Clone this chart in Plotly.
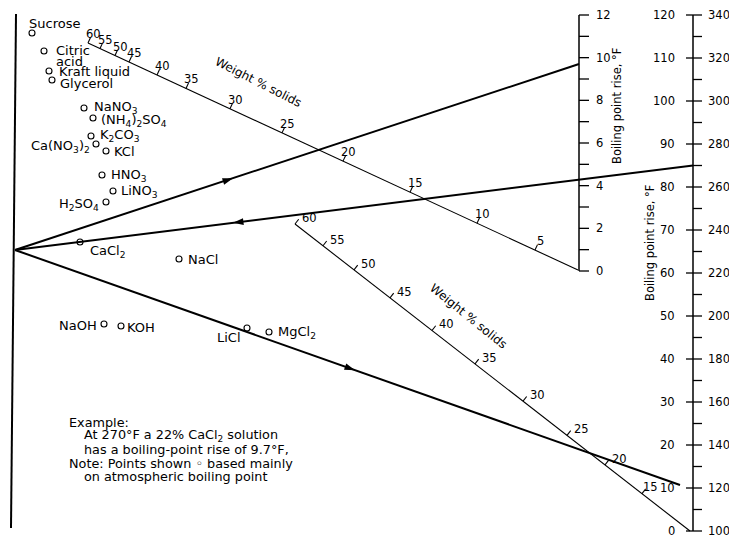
import math
import plotly.graph_objects as go

# ---------------- data (read from the nomograph) ----------------
# middle scale: boiling point rise, °F
bpr_values = list(range(0, 13))
bpr_labels = [0, 2, 4, 6, 8, 10, 12]
# right scale: inner labels (left side) and °F boiling temperature (right side)
right_values = list(range(0, 125, 5))
right_left_labels = list(range(0, 130, 10))
right_right_labels = list(range(100, 360, 20))
# upper weight % solids scale: value -> x position along the scale line
wt_upper_values = [60, 55, 50, 45, 40, 35, 30, 25, 20, 15, 10, 5, 0]
wt_upper_x = [88, 100, 115, 129, 157, 186, 230, 282, 343, 410, 477, 535, 578]
# lower weight % solids scale
wt_lower_values = [60, 55, 50, 45, 40, 35, 30, 25, 20, 15, 0]
wt_lower_x = [295, 323, 354, 390, 432, 475, 523, 567, 605, 642, 690]
# substance points (chart coordinates)
substances = ["Sucrose", "Citric", "Kraft liquid", "Glycerol", "NaNO<sub>3</sub>",
              "(NH<sub>4</sub>)<sub>2</sub>SO<sub>4</sub>", "K<sub>2</sub>CO<sub>3</sub>",
              "Ca(NO<sub>3</sub>)<sub>2</sub>", "KCl", "HNO<sub>3</sub>", "LiNO<sub>3</sub>",
              "H<sub>2</sub>SO<sub>4</sub>", "CaCl<sub>2</sub>", "NaCl", "NaOH", "KOH",
              "LiCl", "MgCl<sub>2</sub>"]
sub_x = [32, 44, 49, 52, 84, 93, 91, 96, 106, 102, 113, 106, 80, 179, 104, 121, 247, 269]
sub_y = [33, 51, 71, 80, 108, 118, 136, 144, 151, 175, 191, 202, 242, 259, 324, 326, 328, 332]
# worked example
example_temp_f = 270
example_wt = 22
example_bpr = 9.7

# ---------------- geometry / style ----------------
W, H = 729, 536
FONT = "DejaVu Sans, Liberation Sans, Arial, sans-serif"
INK = "#000000"
pivot = (15, 250)
mid_x, mid_y0, mid_y12 = 579, 271, 15
rx, ry0, ry120 = 693, 531, 15
up_p0, up_p1 = (88, 43), (578, 270)
lo_p0, lo_p1 = (295, 224), (690, 531)


def mid_y(v):
    return mid_y0 + (mid_y12 - mid_y0) * v / 12.0


def right_y(v):
    return ry0 + (ry120 - ry0) * v / 120.0


def on_line(p0, p1, x):
    return p0[1] + (p1[1] - p0[1]) * (x - p0[0]) / (p1[0] - p0[0])


def interp(vals, xs, v):
    pairs = sorted(zip(vals, xs))
    for (v0, x0), (v1, x1) in zip(pairs, pairs[1:]):
        if v0 <= v <= v1:
            return x0 + (x1 - x0) * (v - v0) / (v1 - v0)
    return pairs[-1][1]


fig = go.Figure()
ann = []


def line(xs, ys, width=1.2, color=INK):
    fig.add_trace(go.Scatter(x=xs, y=ys, mode="lines", hoverinfo="skip",
                             line=dict(color=color, width=width), showlegend=False))


def text(x, y, s, size=12, xanchor="center", yanchor="middle", angle=0):
    ann.append(dict(x=x, y=y, text=s, showarrow=False, xref="x", yref="y",
                    xanchor=xanchor, yanchor=yanchor, textangle=angle,
                    font=dict(family=FONT, size=size, color=INK)))


# left axis line
line([16, 11], [14, 528], width=2)

# middle scale
line([mid_x, mid_x], [mid_y(0), mid_y(12)], width=1.5)
tx, ty = [], []
for v in bpr_values:
    tx += [mid_x, mid_x + 10, None]
    ty += [mid_y(v), mid_y(v), None]
line(tx, ty, width=1.3)
for v in bpr_labels:
    text(mid_x + 15, mid_y(v), str(v), size=11.5, xanchor="left")
text(617, 106, "Boiling point rise, °F", size=11.5, angle=-90)

# right scale
line([rx, rx], [right_y(0), right_y(120)], width=1.5)
tx, ty = [], []
for v in right_values:
    if v % 10 == 0:
        tx += [rx - 7, rx + 9, None]
    else:
        tx += [rx, rx + 9, None]
    ty += [right_y(v), right_y(v), None]
line(tx, ty, width=1.3)
for v, f in zip(right_left_labels, right_right_labels):
    text(rx - 16, right_y(v), str(v), size=11.5, xanchor="right")
    text(rx + 13, right_y(v), str(f), size=11.5, xanchor="left")
text(650, 243, "Boiling point rise, °F", size=11.5, angle=-90)


# weight % scales
def wt_scale(p0, p1, vals, xs, lab_dx, lab_dy, tick_len=6, special=None):
    special = special or {}
    line([p0[0], p1[0]], [p0[1], p1[1]], width=1.1)
    dx, dy = p1[0] - p0[0], p1[1] - p0[1]
    n = math.hypot(dx, dy)
    px, py = dy / n, -dx / n  # perpendicular pointing upward
    tx, ty = [], []
    for v, x in zip(vals, xs):
        if v == 0:
            continue
        y = on_line(p0, p1, x)
        tx += [x, x + px * tick_len, None]
        ty += [y, y + py * tick_len, None]
        ox, oy = special.get(v, (lab_dx, lab_dy))
        text(x + ox, y + oy, str(v), size=11.5)
    line(tx, ty, width=1.1)


wt_scale(up_p0, up_p1, wt_upper_values, wt_upper_x, 5, -9)
wt_scale(lo_p0, lo_p1, wt_lower_values, wt_lower_x, 14, -6, special={15: (8, -7)})
text(258, 82, "Weight % solids", size=12, angle=27)
text(468, 316, "Weight % solids", size=12, angle=39)

# example lines
a_end = (mid_x, mid_y(example_bpr))
line([pivot[0], a_end[0]], [pivot[1], a_end[1]], width=2)
b_start = (rx, right_y((example_temp_f - 100) / 2.0))
line([b_start[0], pivot[0]], [b_start[1], pivot[1]], width=2)
lo_x22 = interp(wt_lower_values, wt_lower_x, example_wt)
lo_y22 = on_line(lo_p0, lo_p1, lo_x22)
c_slope = (lo_y22 - pivot[1]) / (lo_x22 - pivot[0])
c_end_x = 680
c_end = (c_end_x, pivot[1] + c_slope * (c_end_x - pivot[0]))
line([pivot[0], c_end[0]], [pivot[1], c_end[1]], width=2)


# arrowheads
def arrow(x, p0, p1):
    y = on_line(p0, p1, x)
    ang = math.degrees(math.atan2(p1[1] - p0[1], p1[0] - p0[0]))
    fig.add_trace(go.Scatter(x=[x], y=[y], mode="markers", hoverinfo="skip", showlegend=False,
                             marker=dict(symbol="arrow", size=11, angle=90 + ang,
                                         color=INK, line=dict(width=0))))


arrow(233, pivot, a_end)
arrow(233, b_start, pivot)
arrow(355, pivot, c_end)

# substance points
fig.add_trace(go.Scatter(x=sub_x, y=sub_y, mode="markers", hoverinfo="skip", showlegend=False,
                         marker=dict(symbol="circle-open", size=6, color=INK, line=dict(width=1.1))))

label_place = {  # name index -> (dx, dy, anchor)
    0: (-5, -10, "left"), 1: (10, -1, "left"), 2: (8, 0, "left"), 3: (6, 3, "left"),
    4: (8, -1, "left"), 5: (6, 2, "left"), 6: (7, -1, "left"), 7: (-4, 2, "right"),
    8: (6, 0, "left"), 9: (7, 0, "left"), 10: (6, 0, "left"), 11: (-5, 2, "right"),
    12: (8, 9, "left"), 13: (7, 0, "left"), 14: (-5, 1, "right"), 15: (4, 1, "left"),
    16: (-4, 9, "right"), 17: (7, 0, "left"),
}
for i, name in enumerate(substances):
    dx, dy, anc = label_place[i]
    text(sub_x[i] + dx, sub_y[i] + dy, name, size=13, xanchor=anc)
text(sub_x[1] + 10, sub_y[1] + 10, "acid", size=13, xanchor="left")

# example note
note_lines = [
    (67, "Example:"),
    (82, "At 270°F a 22% CaCl<sub>2</sub> solution"),
    (82, "has a boiling-point rise of 9.7°F,"),
    (67, "Note: Points shown ◦ based mainly"),
    (82, "on atmospheric boiling point"),
]
for k, (x, s) in enumerate(note_lines):
    text(x, 422 + 13.7 * k, s, size=12.8, xanchor="left")

fig.update_layout(
    width=W, height=H, autosize=False,
    margin=dict(l=0, r=0, t=0, b=0),
    paper_bgcolor="white", plot_bgcolor="white",
    xaxis=dict(range=[0, W], visible=False, fixedrange=True),
    yaxis=dict(range=[H, 0], visible=False, fixedrange=True),
    annotations=ann, showlegend=False,
)
fig.write_html("out.html", config={"displayModeBar": False, "staticPlot": True},
               post_script="document.body.style.margin='0';document.body.style.padding='0';")
